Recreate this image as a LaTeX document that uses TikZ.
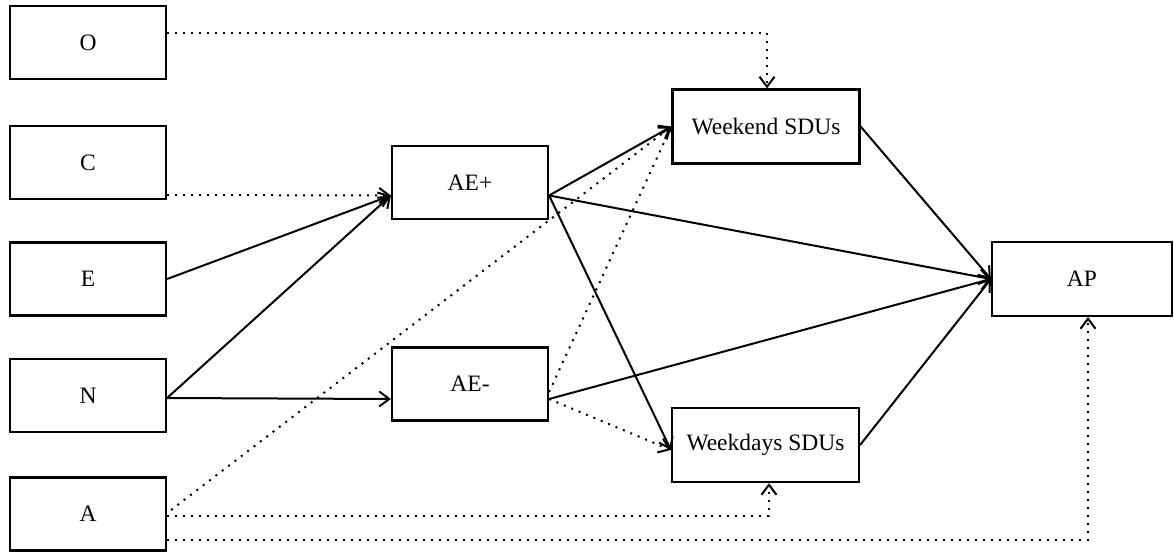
\documentclass[tikz,border=0pt]{standalone}
\usepackage{fontspec}
\setmainfont{Liberation Serif}
\usetikzlibrary{arrows.meta}
\begin{document}
\begin{tikzpicture}[x=1pt,y=-1pt,
  box/.style={draw,line width=2.2pt,rectangle,inner sep=0pt,font=\fontsize{23.5}{25}\selectfont},
  smallbox/.style={box,minimum width=156pt,minimum height=73pt},
  bigbox/.style={box,minimum width=187pt,minimum height=74pt},
  solidarrow/.style={line width=2pt,-{Straight Barb[length=10pt,width=15pt,line width=2pt]}},
  dotarrow/.style={line width=2pt,dash pattern=on 2pt off 6pt,-{Straight Barb[length=10pt,width=15pt,line width=2pt,sep=0pt]}},
]
\useasboundingbox (0,0) rectangle (1174,554);
\fill[white] (0,0) rectangle (1174,554);

\node[smallbox] (O) at (88,42.5) {O};
\node[smallbox] (C) at (88,162.5) {C};
\node[smallbox] (E) at (88,279) {E};
\node[smallbox] (N) at (88,395.5) {N};
\node[smallbox] (A) at (88,514) {A};
\node[smallbox] (AEp) at (470,182.5) {AE+};
\node[smallbox] (AEm) at (470,384) {AE-};
\node[bigbox] (Wend) at (766,126.5) {Weekend SDUs};
\node[bigbox] (Wday) at (765.5,445) {Weekdays SDUs};
\node[box,minimum width=180pt,minimum height=74pt] (AP) at (1082,279) {AP};

\coordinate (Oout) at ([yshift=9.5pt]O.east);
\coordinate (Cout) at ([yshift=-32.5pt]C.east);
\coordinate (Nout) at ([yshift=-2.5pt]N.east);
\coordinate (Aout1) at ([yshift=4pt,xshift=4pt]A.east);
\coordinate (Aout2) at ([yshift=-2pt]A.east);
\coordinate (Aout3) at ([yshift=-26pt]A.east);
\coordinate (AEpin) at ([yshift=-13pt]AEp.west);
\coordinate (AEpout) at ([yshift=-13pt]AEp.east);
\coordinate (AEmin) at ([yshift=-15pt]AEm.west);
\coordinate (AEmout) at ([yshift=-15pt]AEm.east);
\coordinate (AEmout2) at ([yshift=-8pt]AEm.east);
\coordinate (Wdayin) at ([yshift=-5pt]Wday.west);
\coordinate (Wdaybot) at ([xshift=3.5pt]Wday.south);
\coordinate (APbot) at ([xshift=6pt]AP.south);
\coordinate (Wendtop) at ([xshift=1pt]Wend.north);

\draw[dotarrow] (Oout) -| (Wendtop);
\draw[dotarrow] (Cout) -- (AEpin);
\draw[solidarrow] (E.east) -- (AEpin);
\draw[solidarrow] (Nout) -- (AEpin);
\draw[solidarrow] (Nout) -- (AEmin);
\draw[dotarrow] (Aout1) -- (Wend.west);
\draw[dotarrow] (AEmout2) -- (Wend.west);
\draw[dotarrow] (AEmout) -- (Wdayin);
\draw[solidarrow] (AEpout) -- (Wend.west);
\draw[solidarrow] (AEpout) -- (AP.west);
\draw[solidarrow] (AEpout) -- (Wdayin);
\draw[solidarrow] (AEmout) -- (AP.west);
\draw[solidarrow] (Wend.east) -- (AP.west);
\draw[solidarrow] (Wday.east) -- (AP.west);
\draw[dotarrow] (Aout2) -| (Wdaybot);
\draw[dotarrow] (Aout3) -| (APbot);
\end{tikzpicture}
\end{document}
